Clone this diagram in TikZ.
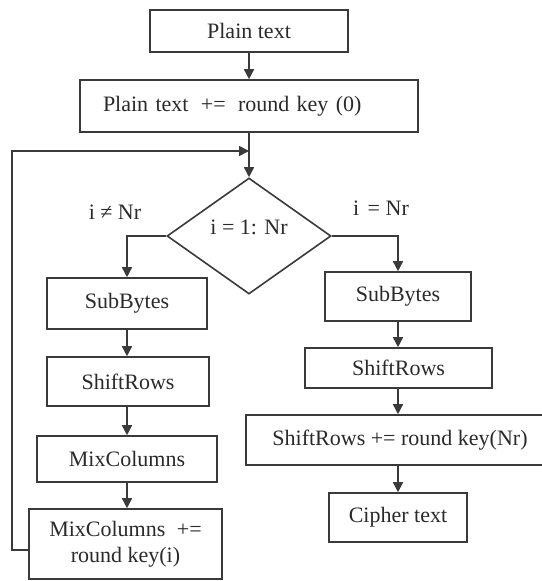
\documentclass[tikz,border=0pt]{standalone}
\usepackage{fontspec}
\setmainfont{Liberation Serif}
\usetikzlibrary{arrows.meta,shapes.geometric}
\definecolor{linec}{HTML}{3A3A3A}
\definecolor{txtc}{HTML}{2A2A2A}
\begin{document}
\begin{tikzpicture}[x=1pt,y=-1pt,
  every node/.style={font=\fontsize{22}{26}\selectfont, text=txtc},
  stepbox/.style={draw=linec, line width=1.6pt, rectangle, inner sep=0pt, align=center},
  decbox/.style={draw=linec, line width=1.6pt, diamond, inner sep=0pt, aspect=1.41},
  conn/.style={draw=linec, line width=1.6pt, -{Triangle[length=10pt,width=10pt]}},
  link/.style={draw=linec, line width=1.6pt}]
\fill[white] (0,0) rectangle (541,581);
\useasboundingbox (0,0) rectangle (541,581);

% main column
\node[stepbox, minimum width=198pt, minimum height=42pt] (plain) at (249,31) {Plain text};
\node[stepbox, minimum width=338pt, minimum height=52pt, text width=292pt, align=left, inner xsep=23pt]
  (addkey) at (249,106) {Plain text\hspace{5pt} +=\hspace{5pt} round key (0)};
\node[decbox, minimum width=164pt, minimum height=116pt, text height=16pt, text depth=20pt]
  (dec) at (249,236) {i = 1: Nr};

% branch labels
\node (neq) at (115,212) {i ≠ Nr};
\node (eqn) at (381,208) {i \hspace{3pt}= Nr};

% loop body (i < Nr)
\node[stepbox, minimum width=160pt, minimum height=51pt] (lsub) at (127,303.5) {SubBytes};
\node[stepbox, minimum width=162pt, minimum height=49pt] (lshift) at (128,381.5) {ShiftRows};
\node[stepbox, minimum width=180pt, minimum height=46pt] (lmix) at (127,459) {MixColumns};
\node[stepbox, minimum width=193pt, minimum height=70pt] (lmixkey) at (125.5,544)
  {MixColumns\hspace{6pt} +=\\round key(i)};

% final round (i = Nr)
\node[stepbox, minimum width=146pt, minimum height=49pt] (rsub) at (398,296.5) {SubBytes};
\node[stepbox, minimum width=187pt, minimum height=40pt] (rshift) at (398.5,368) {ShiftRows};
\node[stepbox, minimum width=308pt, minimum height=50pt] (rshiftkey) at (400,440)
  {ShiftRows += round key(Nr)};
\node[stepbox, minimum width=138pt, minimum height=49pt] (cipher) at (398,517.5) {Cipher text};

% connectors
\coordinate (merge) at (249,151);
\draw[conn] (plain.south) -- (plain.south |- addkey.north);
\draw[conn] (addkey.south) -- (dec.north);
\draw[conn] (dec.west) -| (lsub.north);
\draw[conn] (dec.east) -| (rsub.north);
\draw[conn] (lsub.south) -- (lsub.south |- lshift.north);
\draw[conn] (lsub.south |- lshift.south) -- (lsub.south |- lmix.north);
\draw[conn] (lsub.south |- lmix.south) -- (lsub.south |- lmixkey.north);
\draw[conn] (rsub.south) -- (rsub.south |- rshift.north);
\draw[conn] (rsub.south |- rshift.south) -- (rsub.south |- rshiftkey.north);
\draw[conn] (rsub.south |- rshiftkey.south) -- (rsub.south |- cipher.north);

% feedback loop to the next round
\draw[conn] ([yshift=-6pt]lmixkey.west) -- ++(-16,0) |- (merge);
\end{tikzpicture}
\end{document}
